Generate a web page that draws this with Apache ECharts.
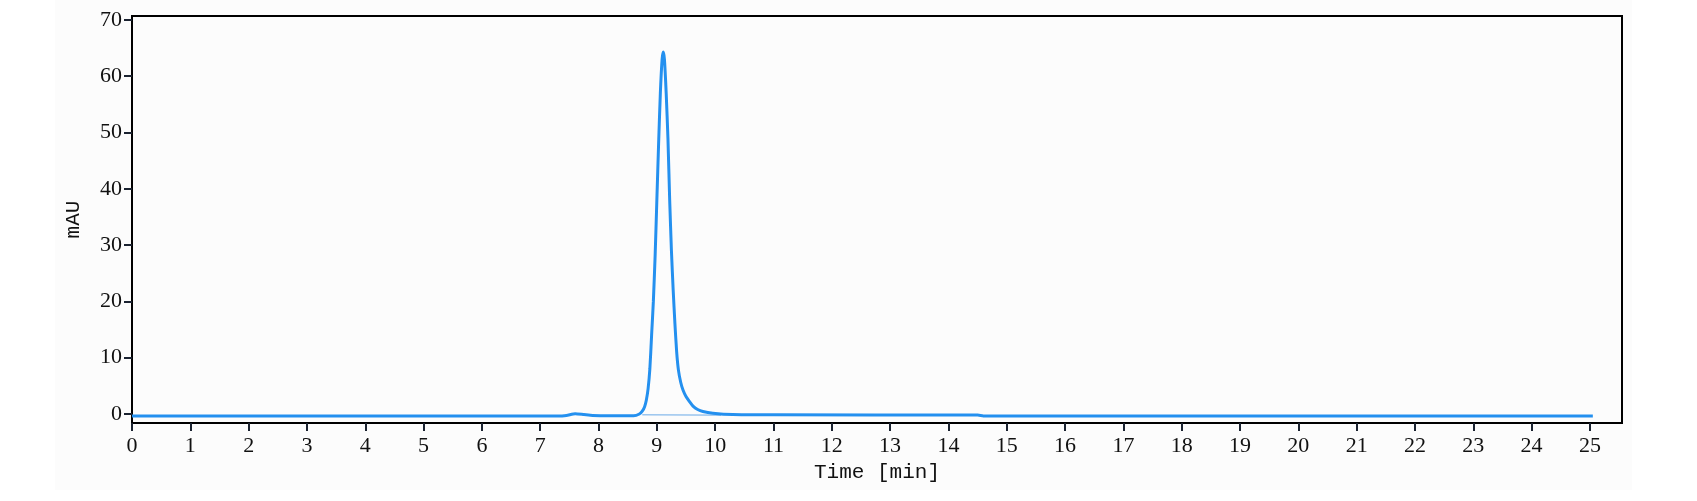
<!DOCTYPE html>
<html>
<head>
<meta charset="utf-8">
<script src="https://cdn.jsdelivr.net/npm/echarts@6/dist/echarts.min.js"></script>
<style>
  html, body { margin: 0; padding: 0; background: #ffffff; }
  #chart { position: absolute; left: 55px; top: 0; width: 1577px; height: 490px; }
</style>
</head>
<body>
<div id="chart"></div>
<script>
// chromatogram: time [min] and signal [mAU]
var timeMin = [0, 7.3, 7.45, 7.6, 7.75, 7.9, 8.2, 8.6, 8.7, 8.75, 8.79, 8.82, 8.85, 8.88, 8.91, 8.94,
  8.97, 9.0, 9.03, 9.06, 9.09, 9.11, 9.13, 9.16, 9.19, 9.22, 9.25, 9.28, 9.31, 9.34, 9.37, 9.41,
  9.45, 9.5, 9.56, 9.62, 9.7, 9.79, 9.96, 10.3, 11, 14.5, 14.6, 25.05];
var signal = [-0.35, -0.35, -0.25, 0.05, -0.1, -0.25, -0.3, -0.3, 0.0, 0.5, 1.3, 2.5, 4.5, 8, 14, 20,
  28, 38, 48, 57, 63, 64.3, 63, 57, 49, 38, 29, 22, 16, 11, 7.8, 5.6,
  4.2, 3.1, 2.2, 1.4, 0.8, 0.45, 0.15, -0.1, -0.15, -0.2, -0.35, -0.35];

// peak baseline drawn under the main peak
var baseTime = [8.75, 10.1];
var baseSignal = [-0.15, -0.2];

var xTicks = [];
for (var i = 0; i <= 25; i++) xTicks.push(i);
var yTicks = [0, 10, 20, 30, 40, 50, 60, 70];

var chartDom = document.getElementById('chart');
var myChart = echarts.init(chartDom);
var option;

var labelFont = 'Liberation Serif';
var nameFont = 'Liberation Mono';

option = {
  backgroundColor: '#fcfcfc',
  animation: false,
  grid: {
    left: 72,
    right: 10,
    top: 16,
    bottom: 67,
    show: true,
    borderColor: '#000000',
    borderWidth: 2,
    backgroundColor: 'transparent'
  },
  xAxis: {
    type: 'value',
    min: 0,
    max: 25.55,
    name: 'Time [min]',
    nameLocation: 'middle',
    nameGap: 37,
    nameTextStyle: { fontFamily: nameFont, fontSize: 21, color: '#111' },
    axisLine: { show: false, onZero: false },
    axisTick: {
      show: true, inside: false, length: 8,
      customValues: xTicks,
      lineStyle: { color: '#1a2230', width: 2 }
    },
    axisLabel: {
      customValues: xTicks,
      margin: 12,
      fontFamily: labelFont, fontSize: 22, color: '#111'
    },
    splitLine: { show: false }
  },
  yAxis: {
    type: 'value',
    min: -1.6,
    max: 70.7,
    name: 'mAU',
    nameLocation: 'middle',
    nameRotate: 90,
    nameGap: 48,
    nameTextStyle: { fontFamily: nameFont, fontSize: 21, color: '#111' },
    axisLine: { show: false, onZero: false },
    axisTick: {
      show: true, inside: false, length: 8,
      customValues: yTicks,
      lineStyle: { color: '#1a2230', width: 2 }
    },
    axisLabel: {
      customValues: yTicks,
      margin: 10,
      fontFamily: labelFont, fontSize: 22, color: '#111'
    },
    splitLine: { show: false }
  },
  series: [
    {
      type: 'line',
      data: baseTime.map(function (t, k) { return [t, baseSignal[k]]; }),
      showSymbol: false,
      lineStyle: { color: '#6aaae8', width: 1 },
      silent: true
    },
    {
      type: 'line',
      data: timeMin.map(function (t, k) { return [t, signal[k]]; }),
      showSymbol: false,
      smooth: 0.2,
      lineStyle: { color: '#2490ef', width: 3 },
      silent: true
    }
  ]
};

option && myChart.setOption(option);
</script>
</body>
</html>
